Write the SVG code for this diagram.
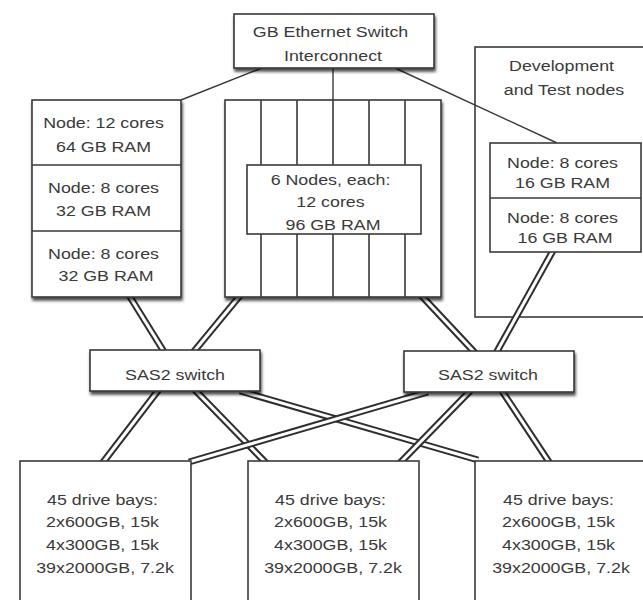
<svg xmlns="http://www.w3.org/2000/svg" xmlns:xlink="http://www.w3.org/1999/xlink" width="643" height="600" viewBox="0 0 643 600">
  <style>
    .box { fill: #fff; stroke: #3a3a3a; stroke-width: 1.6; }
    .div { fill: none; stroke: #3a3a3a; stroke-width: 1.6; }
    .wire { fill: none; stroke: #3a3a3a; stroke-width: 1.4; }
    .co { fill: none; stroke: #2e2e2e; stroke-width: 7; }
    .ci { fill: none; stroke: #fff; stroke-width: 3; }
    .t { font-family: "Liberation Sans", Arial, Helvetica, sans-serif; font-size: 15.5px; fill: #3a3a3a; text-anchor: middle; }
  </style>
  <defs>
    <filter id="shadow" x="-10%" y="-10%" width="125%" height="130%">
      <feDropShadow dx="1" dy="3" stdDeviation="1.8" flood-color="#000" flood-opacity="0.7"/>
    </filter>
    <!-- SAS cable routes -->
    <path id="c1" d="M127,292 L166,355"/>
    <path id="c2" d="M243,292 L191,355"/>
    <path id="c3" d="M418,292 L477,355"/>
    <path id="c4" d="M555,247 L495,355"/>
    <path id="c5" d="M160,388 L101,465"/>
    <path id="c6" d="M193,388 L268,465"/>
    <path id="c7" d="M240,391 L478,460"/>
    <path id="c8" d="M428,392 L189,462"/>
    <path id="c9" d="M473,388 L398,465"/>
    <path id="c10" d="M500,388 L551,465"/>
  </defs>

  <rect width="643" height="600" fill="#fff"/>

  <!-- development group outline -->
  <g id="dev-group">
    <rect class="box" x="475" y="47" width="180" height="270"/>
    <text class="t" transform="translate(564 0) scale(1.15 1)">
      <tspan x="0" y="71">Development</tspan>
      <tspan x="0" y="95">and Test nodes</tspan>
    </text>
  </g>

  <!-- connectors -->
  <g id="connectors">
    <path class="wire" d="M262,68 L181,100"/>
    <path class="wire" d="M395,68 L557,143"/>
    <path class="wire" d="M333,68 L333,100"/>
    <use xlink:href="#c1" class="co"/><use xlink:href="#c1" class="ci"/>
    <use xlink:href="#c2" class="co"/><use xlink:href="#c2" class="ci"/>
    <use xlink:href="#c3" class="co"/><use xlink:href="#c3" class="ci"/>
    <use xlink:href="#c4" class="co"/><use xlink:href="#c4" class="ci"/>
    <use xlink:href="#c5" class="co"/><use xlink:href="#c5" class="ci"/>
    <use xlink:href="#c6" class="co"/><use xlink:href="#c6" class="ci"/>
    <use xlink:href="#c7" class="co"/><use xlink:href="#c7" class="ci"/>
    <use xlink:href="#c8" class="co"/><use xlink:href="#c8" class="ci"/>
    <use xlink:href="#c9" class="co"/><use xlink:href="#c9" class="ci"/>
    <use xlink:href="#c10" class="co"/><use xlink:href="#c10" class="ci"/>
  </g>

  <!-- GB Ethernet switch -->
  <g id="gb-switch">
    <rect class="box" x="234" y="14" width="200" height="54" filter="url(#shadow)"/>
    <text class="t" transform="translate(333 0) scale(1.15 1)">
      <tspan x="0" y="37">GB Ethernet Switch</tspan>
      <tspan x="0" y="61">Interconnect</tspan>
    </text>
  </g>

  <!-- left node stack -->
  <g id="left-nodes">
    <rect class="box" x="32" y="100" width="149" height="197" filter="url(#shadow)"/>
    <path class="div" d="M32,165 H181 M32,231 H181"/>
    <text class="t" transform="translate(106 0) scale(1.15 1)">
      <tspan x="0" y="128">Node: 12 cores</tspan>
      <tspan x="0" y="152">64 GB RAM</tspan>
      <tspan x="0" y="193">Node: 8 cores</tspan>
      <tspan x="0" y="216">32 GB RAM</tspan>
      <tspan x="0" y="259">Node: 8 cores</tspan>
      <tspan x="0" y="281">32 GB RAM</tspan>
    </text>
  </g>

  <!-- six-node rack -->
  <g id="rack">
    <rect class="box" x="225" y="100" width="216" height="197" filter="url(#shadow)"/>
    <path class="div" d="M261,100 V297 M297,100 V297 M333,100 V297 M369,100 V297 M405,100 V297"/>
    <rect class="box" x="247" y="165" width="174" height="69"/>
    <text class="t" transform="translate(333 0) scale(1.15 1)">
      <tspan x="0" y="185">6 Nodes, each:</tspan>
      <tspan x="0" y="207">12 cores</tspan>
      <tspan x="0" y="230">96 GB RAM</tspan>
    </text>
  </g>

  <!-- development nodes -->
  <g id="dev-nodes">
    <rect class="box" x="490" y="143" width="151" height="109"/>
    <path class="div" d="M490,198 H641"/>
    <text class="t" transform="translate(565 0) scale(1.15 1)">
      <tspan x="0" y="168">Node: 8 cores</tspan>
      <tspan x="0" y="188">16 GB RAM</tspan>
      <tspan x="0" y="223">Node: 8 cores</tspan>
      <tspan x="0" y="243">16 GB RAM</tspan>
    </text>
  </g>

  <!-- SAS2 switches -->
  <g id="sas-left">
    <rect class="box" x="90" y="350" width="170" height="41" filter="url(#shadow)"/>
    <text class="t" transform="translate(175 0) scale(1.15 1)"><tspan x="0" y="380">SAS2 switch</tspan></text>
  </g>
  <g id="sas-right">
    <rect class="box" x="404" y="351" width="170" height="41" filter="url(#shadow)"/>
    <text class="t" transform="translate(488 0) scale(1.15 1)"><tspan x="0" y="380">SAS2 switch</tspan></text>
  </g>

  <!-- drive enclosures -->
  <g id="drives-left">
    <rect class="box" x="20" y="461" width="171" height="150"/>
    <text class="t" transform="translate(105 0) scale(1.15 1)">
      <tspan x="0" y="505">45 drive bays:</tspan>
      <tspan x="0" y="527">2x600GB, 15k</tspan>
      <tspan x="0" y="550">4x300GB, 15k</tspan>
      <tspan x="0" y="573">39x2000GB, 7.2k</tspan>
    </text>
  </g>
  <g id="drives-middle">
    <rect class="box" x="248" y="461" width="171" height="150"/>
    <text class="t" transform="translate(333 0) scale(1.15 1)">
      <tspan x="0" y="505">45 drive bays:</tspan>
      <tspan x="0" y="527">2x600GB, 15k</tspan>
      <tspan x="0" y="550">4x300GB, 15k</tspan>
      <tspan x="0" y="573">39x2000GB, 7.2k</tspan>
    </text>
  </g>
  <g id="drives-right">
    <rect class="box" x="475" y="461" width="180" height="150"/>
    <text class="t" transform="translate(561 0) scale(1.15 1)">
      <tspan x="0" y="505">45 drive bays:</tspan>
      <tspan x="0" y="527">2x600GB, 15k</tspan>
      <tspan x="0" y="550">4x300GB, 15k</tspan>
      <tspan x="0" y="573">39x2000GB, 7.2k</tspan>
    </text>
  </g>
</svg>
